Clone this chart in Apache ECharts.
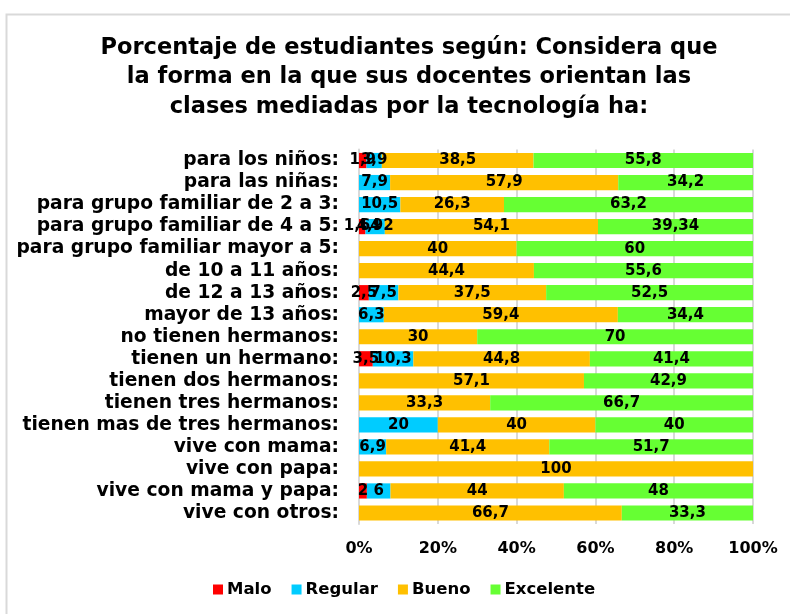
<!DOCTYPE html>
<html><head><meta charset="utf-8">
<script src="https://cdn.jsdelivr.net/npm/echarts@6/dist/echarts.min.js"></script>
<style>html,body{margin:0;padding:0;background:#fff}#c{width:790px;height:614px}</style>
</head><body><div id="c"></div>
<script>
const categories = [
  'para los niños:', 'para las niñas:', 'para grupo familiar de 2 a 3:', 'para grupo familiar de 4 a 5:',
  'para grupo familiar mayor a 5:', 'de 10 a 11 años:', 'de 12 a 13 años:', 'mayor de 13 años:',
  'no tienen hermanos:', 'tienen un hermano:', 'tienen dos hermanos:', 'tienen tres hermanos:',
  'tienen mas de tres hermanos:', 'vive con mama:', 'vive con papa:', 'vive con mama y papa:', 'vive con otros:'
];
const malo      = [1.9, 0, 0, 1.64, 0, 0, 2.5, 0, 0, 3.5, 0, 0, 0, 0, 0, 2, 0];
const regular   = [3.9, 7.9, 10.5, 4.92, 0, 0, 7.5, 6.3, 0, 10.3, 0, 0, 20, 6.9, 0, 6, 0];
const bueno     = [38.5, 57.9, 26.3, 54.1, 40, 44.4, 37.5, 59.4, 30, 44.8, 57.1, 33.3, 40, 41.4, 100, 44, 66.7];
const excelente = [55.8, 34.2, 63.2, 39.34, 60, 55.6, 52.5, 34.4, 70, 41.4, 42.9, 66.7, 40, 51.7, 0, 48, 33.3];
const seriesNames = ['Malo', 'Regular', 'Bueno', 'Excelente'];
const colors = ['#FF0000', '#00CCFF', '#FFC000', '#66FF33'];
const xTicks = [0, 20, 40, 60, 80, 100];

const FONT = '"DejaVu Sans", Arial, sans-serif';
const chart = echarts.init(document.getElementById('c'));
const dataSets = [malo, regular, bueno, excelente];
const series = seriesNames.map((name, i) => ({
  name, type: 'bar', stack: 'total', barCategoryGap: '31%',
  itemStyle: { color: colors[i] },
  label: {
    show: true, position: 'inside', color: '#000', fontWeight: 'bold', fontSize: 15, fontFamily: FONT,
    formatter: p => p.value > 0 ? String(p.value).replace('.', ',') : ''
  },
  data: dataSets[i].map(v => v > 0 ? v : '-')
}));

chart.setOption({
  animation: false,
  textStyle: { fontFamily: FONT },
  graphic: [{ type: 'rect', shape: { x: 6.5, y: 14.5, width: 900, height: 900 }, style: { fill: 'none', stroke: '#D9D9D9', lineWidth: 2 } }],
  title: {
    text: 'Porcentaje de estudiantes según: Considera que\nla forma en la que sus docentes orientan las\nclases mediadas por la tecnología ha:',
    left: 404, textAlign: 'center', top: 28,
    textStyle: { fontSize: 22.5, fontWeight: 'bold', color: '#000', lineHeight: 29.5, fontFamily: FONT }
  },
  legend: {
    bottom: 11, left: 208, itemWidth: 10, itemHeight: 10, itemGap: 20,
    icon: 'rect',
    textStyle: { fontSize: 16.5, fontWeight: 'bold', color: '#000', fontFamily: FONT, padding: [0, 0, 0, -1] }
  },
  grid: { left: 359, right: 37, top: 149.5, bottom: 90 },
  xAxis: {
    type: 'value', min: 0, max: 100, interval: 20,
    axisLabel: { formatter: v => v + '%', fontSize: 16, fontWeight: 'bold', color: '#000', margin: 17, fontFamily: FONT },
    splitLine: { lineStyle: { color: '#D9D9D9', width: 2 } },
    axisLine: { show: false }, axisTick: { show: false }
  },
  yAxis: {
    type: 'category', inverse: true, data: categories,
    axisLabel: { interval: 0, fontSize: 18.7, fontWeight: 'bold', color: '#000', margin: 20, fontFamily: FONT },
    axisLine: { lineStyle: { color: '#D9D9D9', width: 2 } }, axisTick: { show: false }
  },
  series
});
</script></body></html>
